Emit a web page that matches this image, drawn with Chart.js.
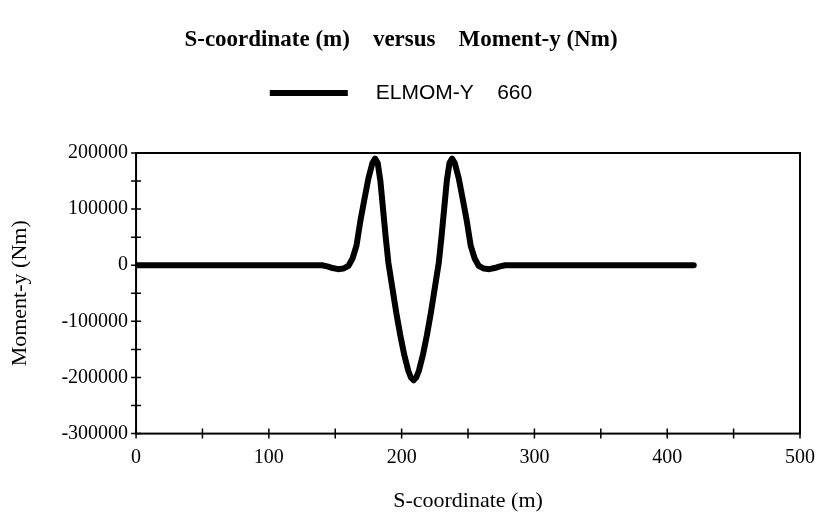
<!DOCTYPE html>
<html lang="en">
<head>
    <meta charset="UTF-8">
    <title>S-coordinate versus Moment-y</title>
    <script src="https://cdn.jsdelivr.net/npm/chart.js"></script>
    <style>
        body { margin: 0; background: #ffffff; }
        #wrap { width: 820px; height: 516px; }
    </style>
</head>
<body>
    <div id="wrap"><canvas id="momentChart"></canvas></div>

    <script>
        // S-coordinate (m)
        const sCoord = [0, 140, 144, 148, 152, 156, 160, 163, 166, 169, 172, 175, 178, 180, 182, 184, 186, 188, 190,
            193, 196, 199, 202, 205, 207, 209, 211, 213, 216, 219, 222, 225,
            228, 230, 232, 234, 236, 238, 240, 243, 246, 249, 252, 255, 258, 262, 266, 270, 274, 278, 420];
        // Moment-y (Nm)
        const momentY = [0, 0, -2000, -5000, -7000, -6000, -1000, 12000, 35000, 80000, 118000, 155000, 182000, 190000, 182000, 150000, 100000, 50000, 5000,
            -40000, -85000, -125000, -160000, -188000, -200000, -205000, -200000, -188000, -160000, -125000, -85000, -40000,
            5000, 50000, 100000, 150000, 182000, 190000, 182000, 155000, 118000, 80000, 35000, 12000, -1000, -6000, -7000, -5000, -2000, 0, 0];
        const seriesName = 'ELMOM-Y    660';
        const xTicks = [0, 100, 200, 300, 400, 500];
        const yTicks = [-300000, -200000, -100000, 0, 100000, 200000];

        const points = sCoord.map((s, i) => ({ x: s, y: momentY[i] }));

        // the old chart's lettering is set a little wide
        const wideText = {
            id: 'wideText',
            beforeInit(chart) { chart.ctx.letterSpacing = '1px'; }
        };

        // box round the plot area and tick marks that cross the axis lines
        const frameAndTicks = {
            id: 'frameAndTicks',
            afterDraw(chart) {
                const ctx = chart.ctx;
                const a = chart.chartArea;
                const xs = chart.scales.x, ys = chart.scales.y;
                ctx.save();
                ctx.strokeStyle = '#000';
                ctx.lineWidth = 2;
                ctx.strokeRect(a.left, a.top, a.right - a.left, a.bottom - a.top);
                ctx.lineWidth = 1.5;
                ctx.beginPath();
                xs.ticks.forEach(t => {
                    const px = xs.getPixelForValue(t.value);
                    ctx.moveTo(px, a.bottom - 5);
                    ctx.lineTo(px, a.bottom + 5);
                });
                ys.ticks.forEach(t => {
                    const py = ys.getPixelForValue(t.value);
                    ctx.moveTo(a.left - 5, py);
                    ctx.lineTo(a.left + 5, py);
                });
                ctx.stroke();
                ctx.restore();
            }
        };

        const serif = 'Liberation Serif, Times New Roman, serif';

        new Chart(document.getElementById('momentChart').getContext('2d'), {
            type: 'line',
            data: {
                datasets: [{
                    label: seriesName,
                    data: points,
                    borderColor: '#000',
                    backgroundColor: '#000',
                    borderWidth: 6,
                    borderJoinStyle: 'round',
                    borderCapStyle: 'round',
                    pointRadius: 0,
                    tension: 0
                }]
            },
            options: {
                responsive: true,
                maintainAspectRatio: false,
                animation: false,
                layout: { padding: { left: 2, right: 20, top: 0, bottom: 2 } },
                plugins: {
                    title: {
                        display: true,
                        text: 'S-coordinate (m)    versus    Moment-y (Nm)',
                        color: '#000',
                        font: { family: serif, size: 23, weight: 'bold' },
                        padding: { top: 26, bottom: 19 }
                    },
                    // empty spacer between the legend and the plot
                    subtitle: {
                        display: true,
                        text: '',
                        weight: 500,
                        font: { size: 12 },
                        padding: { top: 13, bottom: 12 }
                    },
                    legend: {
                        display: true,
                        labels: {
                            color: '#000',
                            font: { family: 'Liberation Sans, Arial, sans-serif', size: 21 },
                            boxWidth: 78,
                            boxHeight: 6,
                            padding: 10,
                            generateLabels(chart) {
                                const items = Chart.defaults.plugins.legend.labels.generateLabels(chart);
                                items.forEach(it => { it.text = '   ' + it.text; it.lineWidth = 0; });
                                return items;
                            }
                        }
                    },
                    tooltip: { enabled: false }
                },
                scales: {
                    x: {
                        type: 'linear',
                        min: 0,
                        max: 500,
                        afterFit(scale) { scale.paddingRight = 0; },
                        ticks: {
                            stepSize: 50,
                            color: '#000',
                            font: { family: serif, size: 20 },
                            padding: 12,
                            maxRotation: 0,
                            callback: v => xTicks.includes(v) ? v : ''
                        },
                        grid: { display: false, drawTicks: false },
                        border: { display: false },
                        title: {
                            display: true,
                            text: 'S-coordinate (m)',
                            color: '#000',
                            font: { family: serif, size: 22 },
                            padding: { top: 6, bottom: 0 }
                        }
                    },
                    y: {
                        min: -300000,
                        max: 200000,
                        ticks: {
                            stepSize: 50000,
                            color: '#000',
                            font: { family: serif, size: 20 },
                            padding: 8,
                            callback: v => yTicks.includes(v) ? v : ''
                        },
                        grid: { display: false, drawTicks: false },
                        border: { display: false },
                        title: {
                            display: true,
                            text: 'Moment-y (Nm)',
                            color: '#000',
                            font: { family: serif, size: 22 },
                            padding: { top: 5, bottom: 20 }
                        }
                    }
                }
            },
            plugins: [wideText, frameAndTicks]
        });
    </script>
</body>
</html>
